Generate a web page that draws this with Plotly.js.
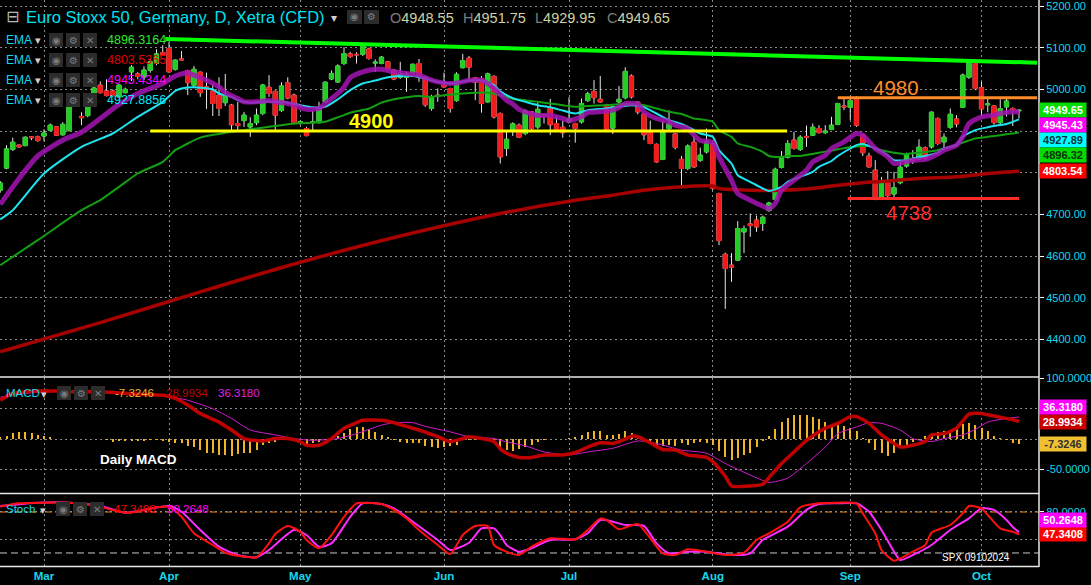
<!DOCTYPE html>
<html><head><meta charset="utf-8">
<script src="https://cdn.plot.ly/plotly-3.0.1.min.js"></script>
<style>html,body{margin:0;padding:0;background:#000;overflow:hidden}#chart{width:1091px;height:585px}</style>
</head><body><div id="chart"></div>
<script>
// ---------- calendar (categories) ----------
const firstDay = '2024-02-21', lastDay = '2024-10-09';
const holidays = ['2024-03-29', '2024-04-01'];
const monthLabels = ['Mar','Apr','May','Jun','Jul','Aug','Sep','Oct'];

// ---------- daily candles (Feb 21 .. Oct 9, 2024) ----------
const openP = [4758,4811,4856,4866,4865,4886,4886,
4888,4902,4910,4891,4901,4977,4935,4937,4985,5010,
4996,4996,4982,4992,5042,5037,5030,5046,5062,5088,
5098,5048,5073,5045,5010,5041,5006,4996,4986,4968,
4962,4918,4925,4910,4920,4942,5005,4995,4949,5016,
4986,4920,4906,4920,4920,4970,5025,5018,5062,5085,
5084,5084,5097,5063,5062,5066,5046,5029,5029,5040,
5062,5029,4954,4986,5010,5002,4973,5052,5075,5028,
5026,4970,5031,4942,4858,4901,4914,4894,4946,4910,
4938,4954,4918,4909,4922,4918,4922,4973,4995,4976,
4962,4907,4970,4980,5032,4969,4941,4898,4868,4832,
4906,4893,4832,4810,4873,4830,4850,4869,4750,4604,
4578,4590,4658,4677,4686,4678,4709,4736,4813,4837,
4878,4856,4887,4890,4906,4896,4904,4916,4960,4957,
4978,4890,4840,4806,4742,4780,4749,4776,4816,4834,
4833,4860,4862,4930,4874,4909,4929,4957,5029,5062,
5004,4963,4960,4920,4958,4954,4948.55];
const highP = [4780,4866,4884,4868,4887,4888,4889,
4904,4918,4912,4921,4980,4989,4945,4985,5016,5019,
5024,5000,5012,5004,5058,5041,5055,5072,5096,5106,
5114,5072,5092,5047,5056,5043,5040,5014,5029,5037,
4965,4970,4946,4933,4954,5013,5034,4998,5017,5029,
4990,4925,4910,4948,4970,5019,5045,5060,5101,5090,
5089,5106,5100,5072,5080,5068,5048,5066,5042,5062,
5073,5031,4987,5002,5040,5004,5041,5085,5080,5030,
5032,5040,5034,4945,4898,4921,4918,4952,4948,4968,
4940,4977,4935,4925,4981,4920,4978,4994,5022,5032,
4965,4961,5008,5053,5036,4972,4943,4925,4870,4925,
4950,4895,4840,4868,4888,4860,4906,4872,4752,4608,
4607,4684,4673,4702,4697,4697,4730,4812,4852,4878,
4898,4890,4913,4918,4914,4914,4934,4968,4978,4978,
4983,4893,4848,4830,4790,4804,4802,4830,4848,4854,
4880,4863,4947,4933,4894,4954,4938,5038,5070,5066,
5018,4978,4962,4976,4978,4957,4951.75];
const lowP = [4752,4808,4852,4860,4863,4878,4874,
4876,4900,4888,4889,4899,4960,4914,4933,4983,4990,
4983,4982,4980,4990,5020,5024,5022,5040,5058,5080,
5040,5045,5069,4986,5005,4982,4953,4936,4936,4960,
4902,4902,4910,4886,4914,4938,4982,4902,4946,4976,
4916,4915,4887,4902,4918,4968,5022,5015,5058,5075,
5062,5080,5071,5042,5060,5046,5022,5025,4994,5036,
5018,4958,4949,4970,5004,4944,4970,5050,5022,4974,
4944,4968,4930,4822,4840,4888,4883,4890,4898,4905,
4918,4890,4898,4884,4918,4872,4918,4970,4966,4968,
4898,4893,4966,4976,4978,4940,4878,4868,4824,4830,
4902,4856,4768,4806,4812,4826,4846,4758,4626,4473,
4538,4588,4607,4646,4658,4660,4706,4732,4810,4834,
4855,4852,4862,4888,4894,4893,4902,4914,4950,4926,
4910,4840,4812,4734,4738,4738,4740,4772,4812,4821,
4830,4830,4858,4866,4854,4905,4909,4955,5025,4998,
4934,4945,4915,4915,4935,4912,4929.95];
const closeP = [4775,4857,4873,4862,4885,4884,4877,
4895,4914,4890,4916,4977,4962,4932,4984,5003,4992,
4985,4985,5010,5000,5053,5031,5046,5066,5085,5082,
5042,5070,5071,5016,5048,4992,5000,4966,4954,4986,
4915,4913,4938,4918,4938,5010,4990,4938,5008,4979,
4920,4922,4889,4922,4956,5017,5038,5056,5086,5079,
5083,5104,5074,5065,5077,5048,5025,5038,5036,5060,
5030,4963,4982,4983,5006,4954,5036,5069,5053,5017,
4966,5037,4934,4838,4880,4917,4885,4948,4906,4952,
4935,4915,4902,4896,4930,4906,4966,4989,4980,4970,
4902,4958,4976,5043,4982,4946,4891,4870,4826,4897,
4917,4861,4810,4864,4814,4842,4874,4762,4637,4570,
4573,4666,4666,4673,4670,4693,4727,4808,4838,4870,
4858,4885,4885,4909,4896,4900,4914,4966,4958,4973,
4914,4848,4814,4736,4777,4745,4764,4813,4844,4828,
4861,4834,4945,4870,4885,4940,4917,5034,5066,5002,
4953,4965,4920,4954,4972,4949,4949.65];

// ---------- moving averages (bar index, value) ----------
const emaFastBar = [0,3,6,10,13,16,19,22,26,28,30,31,33,35,36,38,39,41,43,44,46,47,49,51,52,54,55,56,58,60,61,63,65,67,69,70,72,74,75,77,78,79,81,82,83,85,86,88,90,91,93,94,96,98,99,100,102,103,105,107,108,110,111,112,114,115,117,118,120,122,123,124,125,127,129,130,132,133,135,137,138,140,142,143,145,146,148,150,151,153,154,155,157,159,160,162,163];
const emaFastVal = [4724,4786,4840,4878,4897,4930,4964,4990,5014,5032,5040,5034,5022,5006,4992,4978,4970,4970,4973,4970,4966,4962,4952,4954,4966,4990,5005,5028,5042,5048,5048,5042,5038,5034,5022,5018,5014,5018,5022,5022,5014,5002,4974,4965,4952,4941,4937,4938,4930,4925,4934,4944,4946,4950,4957,4966,4965,4946,4930,4922,4914,4906,4890,4877,4872,4838,4782,4750,4734,4720,4714,4726,4758,4782,4806,4826,4842,4858,4874,4894,4890,4858,4838,4822,4826,4830,4832,4845,4854,4866,4886,4918,4934,4938,4942,4946,4945.4344];
const emaMidBar = [0,2,7,13,18,22,26,28,29,31,34,35,37,38,40,42,44,46,48,50,52,54,56,58,60,62,64,66,68,70,72,75,77,79,80,82,84,86,88,90,92,94,97,99,101,103,105,107,109,111,112,114,115,117,118,120,122,123,125,126,128,130,131,133,134,136,137,138,140,142,143,145,146,148,150,151,153,154,156,158,159,161,162,163];
const emaMidVal = [4688,4710,4798,4862,4894,4934,4970,4996,5002,5005,5000,4990,4982,4974,4968,4970,4970,4968,4962,4957,4958,4976,4998,5014,5021,5029,5032,5032,5026,5018,5014,5021,5021,5010,4995,4979,4970,4962,4957,4949,4942,4950,4954,4958,4962,4957,4942,4926,4917,4902,4894,4886,4854,4822,4794,4778,4762,4756,4766,4778,4790,4802,4814,4828,4840,4858,4866,4869,4858,4842,4830,4830,4834,4840,4848,4858,4866,4886,4902,4909,4912,4917,4922,4927.8856];
const emaSlowBar = [0,6,13,16,19,22,26,28,29,30,32,35,37,39,41,43,45,47,50,52,54,55,56,59,61,63,65,67,69,71,74,76,78,80,82,84,86,88,90,92,94,97,99,101,103,105,107,109,111,112,114,115,117,118,120,122,123,125,126,128,130,131,133,134,136,138,139,141,143,145,147,150,152,154,156,158,160,162,163];
const emaSlowVal = [4578,4638,4710,4734,4766,4798,4826,4854,4862,4870,4884,4893,4898,4902,4906,4910,4914,4918,4920,4922,4933,4938,4944,4954,4968,4976,4981,4984,4982,4986,4990,4992,4992,4986,4977,4974,4970,4966,4962,4958,4960,4962,4964,4966,4962,4954,4946,4941,4930,4928,4922,4902,4886,4870,4862,4850,4840,4838,4840,4840,4845,4848,4853,4856,4861,4864,4864,4854,4848,4845,4848,4854,4862,4872,4882,4886,4890,4894,4896.3164];
const emaLongBar = [0,16,32,48,64,80,92,98,103,108,114,115,120,125,130,134,138,142,147,153,158,163];
const emaLongVal = [4370,4440,4514,4585,4648,4702,4734,4746,4758,4765,4768,4762,4758,4758,4762,4770,4776,4780,4786,4790,4798,4803.5365];

// ---------- drawn levels ----------
const levelValues = [4900, 4980, 4738];
const levelStartBar = [24, 134, 135.6];
const levelEndBar = [125.9, 165.9, 163];
const trendBars = [26.4, 165.9];
const trendValues = [5121, 5064];

// ---------- MACD ----------
const macdBar = [0,2,6,9,12,16,19,22,26,28,30,32,35,37,39,42,44,46,48,49,51,53,55,57,58,61,63,65,67,70,72,74,75,77,79,80,81,83,85,87,90,92,94,96,98,100,101,102,104,106,108,110,113,114,116,117,120,122,123,125,127,129,131,132,134,136,137,139,141,143,144,146,148,149,151,153,155,157,158,160,162,163];
const macdVal = [64,75,79,79,78,78,76,74,72,67,56,42,28,15,1,-3,1,1,-4,-10,-10,1,18,27,31,31,27,21,15,4,-4,1,4,1,-4,-16,-23,-30,-30,-26,-26,-22,-13,-6,-7,0,5,4,-6,-17,-18,-26,-30,-37,-61,-77,-77,-74,-63,-40,-21,-2,12,18,26,37,37,26,7,-7,-13,-10,-4,7,9,18,41,42,40,36,32,28.9934];
const signalBar = [0,3,7,11,17,22,27,30,34,37,40,44,47,50,54,57,61,63,66,68,72,75,79,80,84,87,91,94,98,102,105,109,113,116,120,123,126,129,132,134,137,139,141,144,146,149,151,154,156,158,161,163];
const signalVal = [69,74,78,79,78,75,70,64,50,34,15,7,1,-2,1,9,23,27,27,21,12,4,1,-2,-11,-21,-26,-21,-15,-3,-7,-18,-23,-40,-59,-71,-64,-40,-13,9,20,27,26,15,1,-4,1,7,16,28,34,36.3180];
const histVal = [3,5.5,10,11,11,10,7,4.5,3,1,0.5,0,0.5,0.5,0,0,0.5,-1,-4,-3,-3,-3,-3,-3,-2,-1,-3,-4.4,-5.5,-6.6,
-11,-13,-18.6,-22,-23,-26,-26,-27,-24,-23,-22,-18.6,-10,-5.5,-4,-2,-1,0,-3,-7.7,-6.6,-4,-2,-1,5.5,10,16.4,20,20,16.4,
11,7,3,-2,-4,-5.5,-6.6,-6,-11,-13,-15,-13,-12,-9,-2,-1,-1,-2,-3,-4,-17,-18,-20,-16,-13,-10,-4,-2,0,0.5,
1,1.5,3,7,11,12.6,12.6,7,7,9,12.6,10,4.4,1.6,-5.5,-11,-12,-9,-11,-6.6,-9,-5.5,-4,-5.5,-9,-20,-29.5,-35,-31,-26,
-22,-13,-3,5.5,16.4,29,34,39,40,39,37,33,28,23.5,23.5,22,18,14,1.6,-5.5,-17.5,-23,-27,-23,-15,-9,-4,-1,4.4,10,
11,12.6,15,22,25,27,23.5,18,12.6,5.5,1.6,-1,-5.5,-7.3246];

// ---------- Stochastic ----------
const stochKBar = [0,3,7,11,15,19,21,25,27,29,31,34,36,39,41,43,44,46,48,49,51,53,55,57,58,61,63,65,67,70,72,74,76,78,79,81,83,85,88,92,94,96,97,99,102,104,106,108,110,113,116,119,121,123,126,128,131,134,137,138,140,141,143,144,146,148,149,152,154,155,157,158,160,162,163];
const stochKVal = [87.8,92.7,93.6,93.6,90,80.4,79,86.9,87.8,73,48.8,31.7,20.4,14.6,13.6,34,47.8,59.5,51,39,26.8,46.3,73,92.7,93.6,91.7,83,70.7,53.6,31.7,18.5,46.3,59.5,59.5,31.7,21.9,17,29.2,41.5,40,53.6,70.7,68.3,54.7,62.4,41.5,19.5,17,25.4,21.9,17,20.4,39,48.8,65.8,86.9,92.7,93.6,92.7,78,48.8,24.4,8.7,12.2,21.9,31.7,49.7,61,78,88.8,85.4,75.6,56,51,47.3408];
const stochDBar = [0,6,11,16,20,23,27,29,32,35,38,41,43,47,49,51,53,56,58,61,63,66,70,72,75,77,79,80,81,83,85,88,92,94,96,98,100,103,105,107,110,113,117,120,122,126,129,131,134,137,139,141,143,144,146,149,152,155,157,159,161,162,163];
const stochDVal = [88.8,93.6,93.6,88.8,79,83,88.8,80.4,53.6,29.2,17,13.6,24.4,53.6,46.3,29.2,34,73,92.7,91.7,85.4,65.8,39,24.4,35,56,56,46.3,31.7,21.9,26.8,39,40,48.8,68.3,65.8,61,59.5,34,19.5,21.9,21.9,17,19.5,39,58.5,83,91.7,92.7,92.7,80.4,53.6,21.9,9.7,17,31.7,53.6,70.7,85.4,83,68.3,58,50.2648];

// ---------- axis ticks ----------
const priceTicks = [4400,4500,4600,4700,4800,4900,5000,5100,5200];
const priceTicksCovered = [4800, 4900];          // hidden behind value boxes in the original
const macdTicks = [100, 50, 0, -50];
const macdTicksCovered = [50, 0];
const stochTicks = [80, 40];
const stochTicksCovered = [40];

// ================= build =================
function tradingDays(a, b, skip) {
  const out = []; const d = new Date(a + 'T00:00:00Z'); const end = new Date(b + 'T00:00:00Z');
  while (d <= end) { const w = d.getUTCDay(); const s = d.toISOString().slice(0, 10);
    if (w !== 0 && w !== 6 && !skip.includes(s)) out.push(s); d.setUTCDate(d.getUTCDate() + 1); }
  return out;
}
const days = tradingDays(firstDay, lastDay, holidays);
const barIdx = days.map((_, i) => i);
const monthIdx = [];
days.forEach((s, i) => { if (i > 0 && s.slice(5, 7) !== days[i - 1].slice(5, 7)) monthIdx.push(i); });

const FONT = 'Liberation Sans, Arial, sans-serif';
const CYAN = '#16d8ec';
const GRID = '#8a8a8a';
const PW = 1039, PH = 567;
const XR = [-0.04, 166.2];
const dom1 = [0.33686, 1], dom2 = [0.13051, 0.33333], dom3 = [0, 0.12875];
const r1 = [4312, 5214.4], r2 = [-88.5, 100.5], r3 = [-0.53, 106.35];
const px = x => x / PW, py = y => 1 - y / PH;
function valPx(v, r, d) { const top = PH * (1 - d[1]), bot = PH * (1 - d[0]); return top + (r[1] - v) / (r[1] - r[0]) * (bot - top); }
function tickText(vals, covered, digits) { return vals.map(v => covered.includes(v) ? '' : v.toFixed(digits)); }

const traces = [];
function line(xs, ys, color, width, yaxis, extra) {
  traces.push(Object.assign({type: 'scatter', mode: 'lines', x: xs, y: ys, xaxis: 'x', yaxis: yaxis,
    line: {color: color, width: width, shape: 'spline', smoothing: 0.6}, hoverinfo: 'skip', showlegend: false}, extra || {}));
}
// EMAs
line(emaLongBar, emaLongVal, '#a60000', 3.5, 'y');
line(emaSlowBar, emaSlowVal, '#12a012', 2, 'y');
line(emaMidBar, emaMidVal, '#1ee4f0', 2, 'y');
line(emaFastBar, emaFastVal, '#a414b4', 5, 'y', {opacity: 0.85});
// levels
const levelColors = ['#ffff00', '#ff8c28', '#ff2a2a'];
levelValues.forEach((v, i) => {
  traces.push({type: 'scatter', mode: 'lines', x: [levelStartBar[i], levelEndBar[i]], y: [v, v], xaxis: 'x', yaxis: 'y',
    line: {color: levelColors[i], width: 3}, hoverinfo: 'skip', showlegend: false});
});
traces.push({type: 'scatter', mode: 'lines', x: trendBars, y: trendValues, xaxis: 'x', yaxis: 'y',
  line: {color: '#00ff00', width: 4}, hoverinfo: 'skip', showlegend: false});
// candles: wicks then bodies
const UP = '#24cc24', DN = '#f01c1c';
traces.push({type: 'candlestick', x: barIdx, open: openP, high: highP, low: lowP, close: closeP, xaxis: 'x', yaxis: 'y',
  increasing: {line: {color: '#e6e6e6', width: 1}, fillcolor: UP}, decreasing: {line: {color: '#e6e6e6', width: 1}, fillcolor: DN},
  whiskerwidth: 0, hoverinfo: 'skip', showlegend: false});
traces.push({type: 'candlestick', x: barIdx, open: openP, close: closeP,
  high: openP.map((o, i) => Math.max(o, closeP[i])), low: openP.map((o, i) => Math.min(o, closeP[i])), xaxis: 'x', yaxis: 'y',
  increasing: {line: {color: UP, width: 1}, fillcolor: UP}, decreasing: {line: {color: DN, width: 1}, fillcolor: DN},
  whiskerwidth: 0, hoverinfo: 'skip', showlegend: false});
// MACD
traces.push({type: 'bar', x: barIdx, y: histVal, xaxis: 'x', yaxis: 'y2', width: 0.32, marker: {color: '#f0b428', line: {width: 0}}, hoverinfo: 'skip', showlegend: false});
line(signalBar, signalVal, '#d21cd2', 1, 'y2');
line(macdBar, macdVal, '#c00000', 3.5, 'y2');
// Stoch
line(stochDBar, stochDVal, '#ff2cff', 2, 'y3');
line(stochKBar, stochKVal, '#ff1010', 2, 'y3');

// ---------- shapes & annotations ----------
const shapes = [], ann = [];
function txt(x, y, text, color, size, opts) {
  const o = opts || {};
  ann.push({xref: 'paper', yref: 'paper', x: px(x), y: py(y), text: text, showarrow: false,
    xanchor: o.xanchor || 'left', yanchor: 'middle',
    font: {family: o.family || FONT, size: size, color: color, weight: o.weight || 'normal'}});
}
function iconBox(x, y, sym, w) {
  w = w || 14;
  shapes.push({type: 'rect', xref: 'paper', yref: 'paper', x0: px(x), x1: px(x + w), y0: py(y + 7), y1: py(y - 7),
    fillcolor: '#2c2c2c', line: {width: 0}, layer: 'above'});
  txt(x + w / 2, y, sym, '#7c7c7c', 10, {xanchor: 'center', family: 'DejaVu Sans'});
}
// panel separators and right axis line
[377, 493.5, 566.5].forEach(y => shapes.push({type: 'line', xref: 'paper', yref: 'paper', x0: 0, x1: 1, y0: py(y), y1: py(y), line: {color: '#e8e8e8', width: 1.5}, layer: 'above'}));
shapes.push({type: 'line', xref: 'paper', yref: 'paper', x0: 1, x1: 1, y0: 0, y1: 1, line: {color: '#e8e8e8', width: 1.5}, layer: 'above'});
// stochastic levels
shapes.push({type: 'line', xref: 'paper', yref: 'y3', x0: 0, x1: 1, y0: 80, y1: 80, line: {color: '#ff8c00', width: 1, dash: '7px,3px,2px,3px'}, layer: 'between'});
shapes.push({type: 'line', xref: 'paper', yref: 'y3', x0: 0, x1: 1, y0: 20, y1: 20, line: {color: '#c8c8c8', width: 1, dash: '7px,4px'}, layer: 'between'});

// header
txt(4, 17, '⊟', '#b8b8b8', 16, {family: 'DejaVu Sans'});
txt(24, 17, 'Euro Stoxx 50, Germany, D, Xetra (CFD)', '#00e2f2', 16.5);
txt(329, 18, '▾', '#d0d0d0', 12, {family: 'DejaVu Sans'});
iconBox(347, 17, '◉', 15); iconBox(364, 17, '⚙', 15);
const ohlcKeys = ['O', 'H', 'L', 'C'];
const ohlcVals = [openP, highP, lowP, closeP].map(a => a[a.length - 1].toFixed(2));
const ohlcX = [388, 461, 533, 605];
ohlcKeys.forEach((k, i) => txt(ohlcX[i], 18, '<span style="color:#7c7c7c">' + k + '</span>' + ohlcVals[i], '#cfd2a4', 14.5));

// EMA legend rows
const emaRowVals = [emaSlowVal, emaLongVal, emaFastVal, emaMidVal].map(a => a[a.length - 1].toFixed(4));
const emaRowColors = ['#2ee82e', '#e00000', '#ff00ff', '#00e8ff'];
[40, 60, 80, 100].forEach((y, i) => {
  txt(4, y, 'EMA', CYAN, 12);
  txt(33, y + 1, '▾', '#d0d0d0', 11, {family: 'DejaVu Sans'});
  iconBox(49, y, '◉'); iconBox(66, y, '⚙'); iconBox(83, y, '✕');
  txt(105, y, emaRowVals[i], emaRowColors[i], 12.5);
});
// MACD legend
txt(4, 393, 'MACD', CYAN, 11.5);
txt(39, 394, '▾', '#d0d0d0', 11, {family: 'DejaVu Sans'});
iconBox(57, 393, '◉'); iconBox(74, 393, '⚙'); iconBox(91, 393, '✕');
txt(113, 393, histVal[histVal.length - 1].toFixed(4), '#f0b428', 11.5);
txt(164, 393, macdVal[macdVal.length - 1].toFixed(4), '#c00000', 11.5);
txt(216, 393, signalVal[signalVal.length - 1].toFixed(4), '#e020e0', 11.5);
// Stoch legend
txt(4, 509, 'Stoch', CYAN, 11.5);
txt(38, 510, '▾', '#d0d0d0', 11, {family: 'DejaVu Sans'});
iconBox(56, 509, '◉'); iconBox(73, 509, '⚙'); iconBox(90, 509, '✕');
txt(112, 509, stochKVal[stochKVal.length - 1].toFixed(4), '#ff0000', 11.5);
txt(165, 509, stochDVal[stochDVal.length - 1].toFixed(4), '#ff00ff', 11.5);

// chart texts
txt(371, 121, '4900', '#ffff00', 20, {xanchor: 'center', weight: 'bold'});
txt(896, 87, '4980', '#ff8c28', 20.5, {xanchor: 'center'});
txt(909, 213, '4738', '#ff2a2a', 20.5, {xanchor: 'center'});
txt(138, 459, 'Daily MACD', '#ffffff', 13.5, {xanchor: 'center', weight: 'bold'});
txt(976, 557, 'SPX 09102024', '#ffffff', 10, {xanchor: 'center'});

// right-axis value boxes
function boxes(list, r, d, gap) {
  const placed = [];
  list.forEach(b => {
    let p = valPx(b.v, r, d);
    placed.forEach(q => { if (Math.abs(p - q.p) < gap) p = b.v < q.v ? q.p + gap : q.p - gap; });
    placed.push({p: p, v: b.v});
    ann.push({xref: 'paper', yref: 'paper', x: 1, xanchor: 'left', y: py(p), yanchor: 'middle', showarrow: false,
      text: b.t, bgcolor: b.bg, width: 44, height: gap - 3, borderpad: 1, align: 'center',
      font: {family: FONT, size: 11, color: b.fg, weight: 'bold'}});
  });
}
const lastClose = closeP[closeP.length - 1];
boxes([
  {v: lastClose, t: lastClose.toFixed(2), bg: '#00dc00', fg: '#ffffff'},
  {v: emaFastVal[emaFastVal.length - 1], t: emaFastVal[emaFastVal.length - 1].toFixed(2), bg: '#ff00ff', fg: '#ffffff'},
  {v: emaMidVal[emaMidVal.length - 1], t: emaMidVal[emaMidVal.length - 1].toFixed(2), bg: '#00ffff', fg: '#06303a'},
  {v: emaSlowVal[emaSlowVal.length - 1], t: emaSlowVal[emaSlowVal.length - 1].toFixed(2), bg: '#00dc00', fg: '#0a320a'},
  {v: emaLongVal[emaLongVal.length - 1], t: emaLongVal[emaLongVal.length - 1].toFixed(2), bg: '#ff0000', fg: '#ffffff'}
], r1, dom1, 15);
boxes([
  {v: macdVal[macdVal.length - 1], t: macdVal[macdVal.length - 1].toFixed(4), bg: '#c80000', fg: '#ffffff'},
  {v: signalVal[signalVal.length - 1], t: signalVal[signalVal.length - 1].toFixed(4), bg: '#ff00ff', fg: '#ffffff'},
  {v: histVal[histVal.length - 1], t: histVal[histVal.length - 1].toFixed(4), bg: '#f0c030', fg: '#303030'}
], r2, dom2, 14.5);
boxes([
  {v: stochKVal[stochKVal.length - 1], t: stochKVal[stochKVal.length - 1].toFixed(4), bg: '#ff0000', fg: '#ffffff'},
  {v: stochDVal[stochDVal.length - 1], t: stochDVal[stochDVal.length - 1].toFixed(4), bg: '#ff00ff', fg: '#ffffff'}
], r3, dom3, 14.5);

const yCommon = {side: 'right', anchor: 'x', showgrid: true, gridcolor: GRID, griddash: '2px,3px', gridwidth: 1,
  zeroline: false, showline: false, ticks: 'outside', ticklen: 4, tickcolor: '#ffffff', tickwidth: 1,
  ticklabeloverflow: 'allow', tickfont: {family: FONT, size: 11, color: CYAN}, fixedrange: true};
const layout = {
  width: 1091, height: 585, paper_bgcolor: '#000000', plot_bgcolor: '#000000',
  margin: {l: 0, r: 52, t: 0, b: 18, pad: 0}, showlegend: false, boxgap: 0.33, boxgroupgap: 0,
  xaxis: {domain: [0, 1], range: XR, anchor: 'y3', tickvals: monthIdx, ticktext: monthLabels,
    showgrid: true, gridcolor: GRID, griddash: '2px,3px', gridwidth: 1, zeroline: false, showline: false, ticks: '',
    tickfont: {family: FONT, size: 11.5, color: CYAN, weight: 'bold'}, rangeslider: {visible: false}, fixedrange: true},
  yaxis: Object.assign({}, yCommon, {domain: dom1, range: r1, tickvals: priceTicks, ticktext: tickText(priceTicks, priceTicksCovered, 2)}),
  yaxis2: Object.assign({}, yCommon, {domain: dom2, range: r2, tickvals: macdTicks, ticktext: tickText(macdTicks, macdTicksCovered, 4)}),
  yaxis3: Object.assign({}, yCommon, {domain: dom3, range: r3, tickvals: stochTicks, ticktext: tickText(stochTicks, stochTicksCovered, 4)}),
  bargap: 0, shapes: shapes, annotations: ann
};
Plotly.newPlot('chart', traces, layout, {displayModeBar: false, staticPlot: true});
</script></body></html>
